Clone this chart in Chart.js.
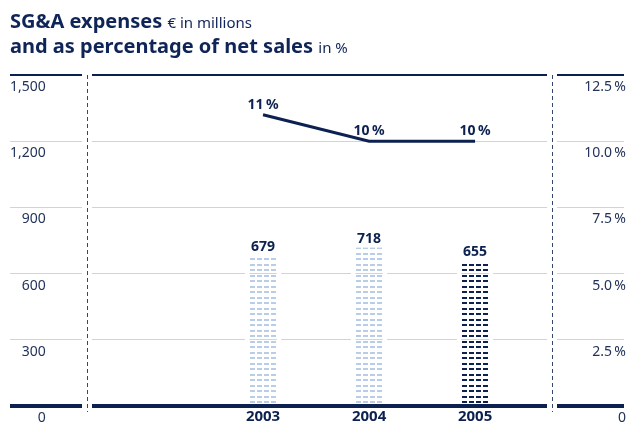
<!DOCTYPE html>
<html>
<head>
<meta charset="utf-8">
<script src="https://cdn.jsdelivr.net/npm/chart.js@4"></script>
<style>
    html, body { margin: 0; padding: 0; background: #fff; }
    .wrap { position: relative; width: 628px; height: 428px; }
    .title {
        position: absolute; left: 10px; top: 9px;
        font-family: "Noto Sans", sans-serif; color: #0f2558;
        font-weight: bold; font-size: 20px; line-height: 24px;
        white-space: nowrap;
    }
    .title span { font-weight: normal; font-size: 15px; }
    canvas { position: absolute; left: 0; top: 0; }
</style>
</head>
<body>
<div class="wrap">
    <canvas id="sgaChart" width="628" height="428"></canvas>
    <div class="title">
        SG&amp;A expenses <span>€ in millions</span><br>
        and as percentage of net sales <span>in %</span>
    </div>
</div>
<script>
const years = [2003, 2004, 2005];
const expenses = [679, 718, 655];          // € millions
const salesShare = [11, 10, 10];            // % of net sales
const leftTicks = [0, 300, 600, 900, 1200, 1500];
const rightTicks = [0, 2.5, 5, 7.5, 10, 12.5];

const NAVY = '#0c2150';
const GRID = '#c2d7ee';
const LIGHT_DASH = '#b9cde8';

// dashed fill for the bars: 4 columns of short dashes per bar
function dashPattern(color, offsetX) {
    const tile = document.createElement('canvas');
    tile.width = 7;
    tile.height = 11;
    const t = tile.getContext('2d');
    t.fillStyle = color;
    t.fillRect(0, 0, 5, 2);
    t.fillRect(0, 5, 5, 2);
    const ctx = document.getElementById('sgaChart').getContext('2d');
    const p = ctx.createPattern(tile, 'repeat');
    p.setTransform(new DOMMatrix().translate(offsetX, 0));
    return p;
}

function barFill(c) {
    const x = c.chart.scales.x.getPixelForValue(years[c.dataIndex]);
    const color = c.dataIndex === years.length - 1 ? NAVY : LIGHT_DASH;
    return dashPattern(color, Math.round(x - 14) + 1);
}

const fmtThousands = v => v.toLocaleString('en-US');
const fmtPct = v => v === 0 ? '0' : v.toFixed(1) + '\u2009%';

// white breaks in the grid and the dashed dividers
const dividers = {
    id: 'dividers',
    beforeDatasetsDraw(chart) {
        const { ctx, chartArea: a } = chart;
        const y = chart.scales.y;
        const xs = [a.left + 77, chart.width - 76];
        ctx.save();
        ctx.fillStyle = '#fff';
        xs.forEach(x => ctx.fillRect(x - 5, a.top - 3, 10, a.bottom - a.top + 8));
        ctx.strokeStyle = '#34466e';
        ctx.lineWidth = 1;
        ctx.setLineDash([4, 3]);
        xs.forEach(x => {
            ctx.beginPath();
            ctx.moveTo(x + 0.5, y.getPixelForValue(1500));
            ctx.lineTo(x + 0.5, a.bottom + 6);
            ctx.stroke();
        });
        ctx.restore();
    }
};

// value labels above bars and line points
const valueLabels = {
    id: 'valueLabels',
    afterDatasetsDraw(chart) {
        const { ctx } = chart;
        ctx.save();
        ctx.fillStyle = NAVY;
        ctx.font = 'bold 14px "Noto Sans"';
        ctx.textAlign = 'center';
        ctx.textBaseline = 'alphabetic';
        chart.getDatasetMeta(0).data.forEach((bar, i) => {
            ctx.fillText(fmtThousands(expenses[i]), bar.x, bar.y - 5);
        });
        chart.getDatasetMeta(1).data.forEach((pt, i) => {
            ctx.fillText(salesShare[i] + '\u2009%', pt.x, pt.y - 6);
        });
        ctx.restore();
    }
};

new Chart(document.getElementById('sgaChart'), {
    data: {
        datasets: [
            {
                type: 'bar',
                yAxisID: 'y',
                data: years.map((yr, i) => ({ x: yr, y: expenses[i] })),
                backgroundColor: barFill,
                borderColor: '#fff',
                borderWidth: { left: 4, right: 4, top: 0, bottom: 0 },
                borderSkipped: false,
                barThickness: 36
            },
            {
                type: 'line',
                yAxisID: 'y1',
                data: years.map((yr, i) => ({ x: yr, y: salesShare[i] })),
                borderColor: NAVY,
                borderWidth: 3,
                pointRadius: 0,
                tension: 0
            }
        ]
    },
    options: {
        responsive: false,
        animation: false,
        layout: { padding: { left: 10, right: 0, top: 75, bottom: 0 } },
        plugins: {
            legend: { display: false },
            tooltip: { enabled: false }
        },
        scales: {
            x: {
                type: 'linear',
                offset: false,
                bounds: 'data',
                min: 2000.613,
                max: 2006.405,
                afterBuildTicks: s => { s.ticks = years.map(v => ({ value: v })); },
                grid: { display: false, drawTicks: false },
                border: { display: false },
                ticks: {
                    padding: 2,
                    color: NAVY,
                    font: { family: 'Noto Sans', size: 15, weight: 'bold' },
                    callback: v => String(v)
                }
            },
            y: {
                position: 'left',
                min: 0,
                max: 1500,
                afterBuildTicks: s => { s.ticks = leftTicks.map(v => ({ value: v })); },
                border: { display: false },
                grid: {
                    drawTicks: false,
                    color: c => (c.tick.value === 0 || c.tick.value === 1500) ? NAVY : GRID,
                    lineWidth: c => c.tick.value === 0 ? 4 : (c.tick.value === 1500 ? 2 : 1)
                },
                ticks: {
                    mirror: true,
                    crossAlign: 'far',
                    padding: 0,
                    labelOffset: 12,
                    color: '#22335a',
                    font: { family: 'Noto Sans', size: 14 },
                    callback: v => fmtThousands(v)
                }
            },
            y1: {
                position: 'right',
                min: 0,
                max: 12.5,
                afterBuildTicks: s => { s.ticks = rightTicks.map(v => ({ value: v })); },
                border: { display: false },
                grid: { display: false, drawTicks: false },
                ticks: {
                    mirror: true,
                    padding: 2,
                    labelOffset: 12,
                    color: '#22335a',
                    font: { family: 'Noto Sans', size: 14 },
                    callback: v => fmtPct(v)
                }
            }
        }
    },
    plugins: [dividers, valueLabels]
});
</script>
</body>
</html>
